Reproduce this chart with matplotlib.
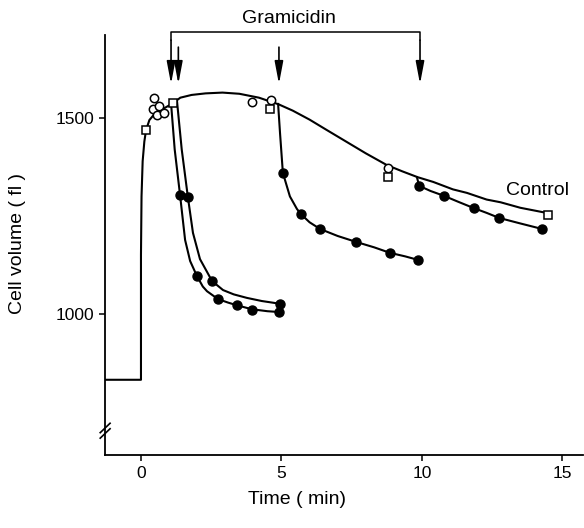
import matplotlib
matplotlib.use('Agg')
import matplotlib.pyplot as plt

plt.rcParams['font.family'] = ['Liberation Sans', 'DejaVu Sans']

# control curve (no gramicidin), baseline before t = 0 included
ctrl_t = [-1.28, 0.0, 0.0, 0.02, 0.06, 0.12, 0.18, 0.3, 0.5, 0.8, 1.14, 1.4, 1.8, 2.3, 2.9,
          3.5, 4.2, 4.9, 5.4, 6.0, 6.6, 7.3, 8.0, 8.75, 9.3, 9.85, 10.4, 11.1, 11.6, 12.3,
          12.8, 13.5, 14.0, 14.5]
ctrl_v = [832, 832, 1150, 1300, 1390, 1440, 1469, 1495, 1512, 1524, 1538, 1552, 1559, 1563, 1565,
          1562, 1552, 1535, 1519, 1496, 1470, 1440, 1410, 1380, 1364, 1349, 1337, 1318, 1309, 1292,
          1285, 1271, 1264, 1257]

# gramicidin added at ~1.1 min
a_t = [1.07, 1.2, 1.39, 1.57, 1.75, 1.99, 2.2, 2.35, 2.74, 3.1, 3.42, 3.95, 4.5, 4.91]
a_v = [1538, 1420, 1304, 1189, 1135, 1097, 1070, 1058, 1038, 1029, 1022, 1012, 1007, 1005]
a_pt_t = [1.39, 1.99, 2.74, 3.42, 3.95, 4.91]
a_pt_v = [1304, 1097, 1038, 1023, 1010, 1005]

# gramicidin added at ~1.3 min
b_t = [1.28, 1.45, 1.67, 1.85, 2.1, 2.53, 2.92, 3.3, 3.77, 4.3, 4.95]
b_v = [1545, 1420, 1298, 1207, 1140, 1084, 1061, 1050, 1041, 1033, 1026]
b_pt_t = [1.67, 2.53, 4.95]
b_pt_v = [1298, 1084, 1026]

# gramicidin added at 5 min
c_t = [4.88, 4.95, 5.05, 5.3, 5.55, 5.69, 6.0, 6.37, 7.0, 7.65, 8.3, 8.86, 9.4, 9.86]
c_v = [1536, 1460, 1360, 1300, 1268, 1255, 1234, 1217, 1199, 1184, 1170, 1156, 1147, 1138]
c_pt_t = [5.05, 5.69, 6.37, 7.65, 8.86, 9.86]
c_pt_v = [1360, 1255, 1217, 1184, 1156, 1138]

# gramicidin added at 10 min
d_t = [9.82, 9.9, 10.3, 10.8, 11.3, 11.85, 12.3, 12.75, 13.5, 14.27]
d_v = [1349, 1327, 1314, 1301, 1286, 1270, 1258, 1245, 1231, 1217]
d_pt_t = [9.9, 10.8, 11.85, 12.75, 14.27]
d_pt_v = [1327, 1301, 1270, 1245, 1217]

# control measurements
circ_t = [0.46, 0.42, 0.64, 0.57, 0.82, 3.95, 4.63, 8.8]
circ_v = [1550, 1524, 1530, 1507, 1514, 1541, 1546, 1372]
sq_t = [0.18, 1.14, 4.6, 8.8, 14.5]
sq_v = [1470, 1539, 1524, 1350, 1253]

arrow_t = [1.07, 1.33, 4.91, 9.93]

fig = plt.figure(figsize=(5.84, 5.28), dpi=100)
ax = fig.add_axes([105 / 584, 73 / 528, 478 / 584, 420 / 528])

lw = 1.5
ax.plot(ctrl_t, ctrl_v, color='k', lw=lw)
for tt, vv in [(a_t, a_v), (b_t, b_v), (c_t, c_v), (d_t, d_v)]:
    ax.plot(tt, vv, color='k', lw=lw)
for tt, vv in [(a_pt_t, a_pt_v), (b_pt_t, b_pt_v), (c_pt_t, c_pt_v), (d_pt_t, d_pt_v)]:
    ax.plot(tt, vv, 'o', color='k', ms=6.5, zorder=5)
ax.plot(circ_t, circ_v, 'o', mfc='white', mec='k', mew=1.1, ms=6, zorder=6)
ax.plot(sq_t, sq_v, 's', mfc='white', mec='k', mew=1.1, ms=5.5, zorder=6)

ax.set_xlim(-1.28, 15.73)
ax.set_ylim(640, 1712)
ax.set_xticks([0, 5, 10, 15])
ax.set_yticks([1000, 1500])
ax.tick_params(labelsize=12.5, width=1.1, length=4, pad=4)
for s in ['top', 'right']:
    ax.spines[s].set_visible(False)
for s in ['left', 'bottom']:
    ax.spines[s].set_linewidth(1.3)

# axis break on y
for dy in [0, 14]:
    ax.plot([-1.45, -1.1], [683 + dy, 707 + dy], color='k', lw=1.2, clip_on=False)

# gramicidin bracket and arrows
ax.plot([arrow_t[0], arrow_t[0], arrow_t[-1], arrow_t[-1]], [1699, 1719, 1719, 1699],
        color='k', lw=1.1, clip_on=False)
for i, t in enumerate(arrow_t):
    y0 = 1699 if i in (0, 3) else 1681
    ax.annotate('', xy=(t, 1587), xytext=(t, y0), annotation_clip=False,
                arrowprops=dict(arrowstyle='-|>,head_length=0.9,head_width=0.17',
                                mutation_scale=15, lw=1.2, color='k',
                                shrinkA=0, shrinkB=0))
ax.text(5.27, 1755, 'Gramicidin', fontsize=14, ha='center', va='center', clip_on=False)
ax.text(13.0, 1316, 'Control', fontsize=14, ha='left', va='center')

fig.text(297 / 584, 28 / 528, 'Time ( min)', fontsize=14, ha='center', va='center')
fig.text(18 / 584, 285 / 528, 'Cell volume ( fl )', fontsize=14, ha='center', va='center',
         rotation=90)

fig.savefig('out.png', dpi=100)
